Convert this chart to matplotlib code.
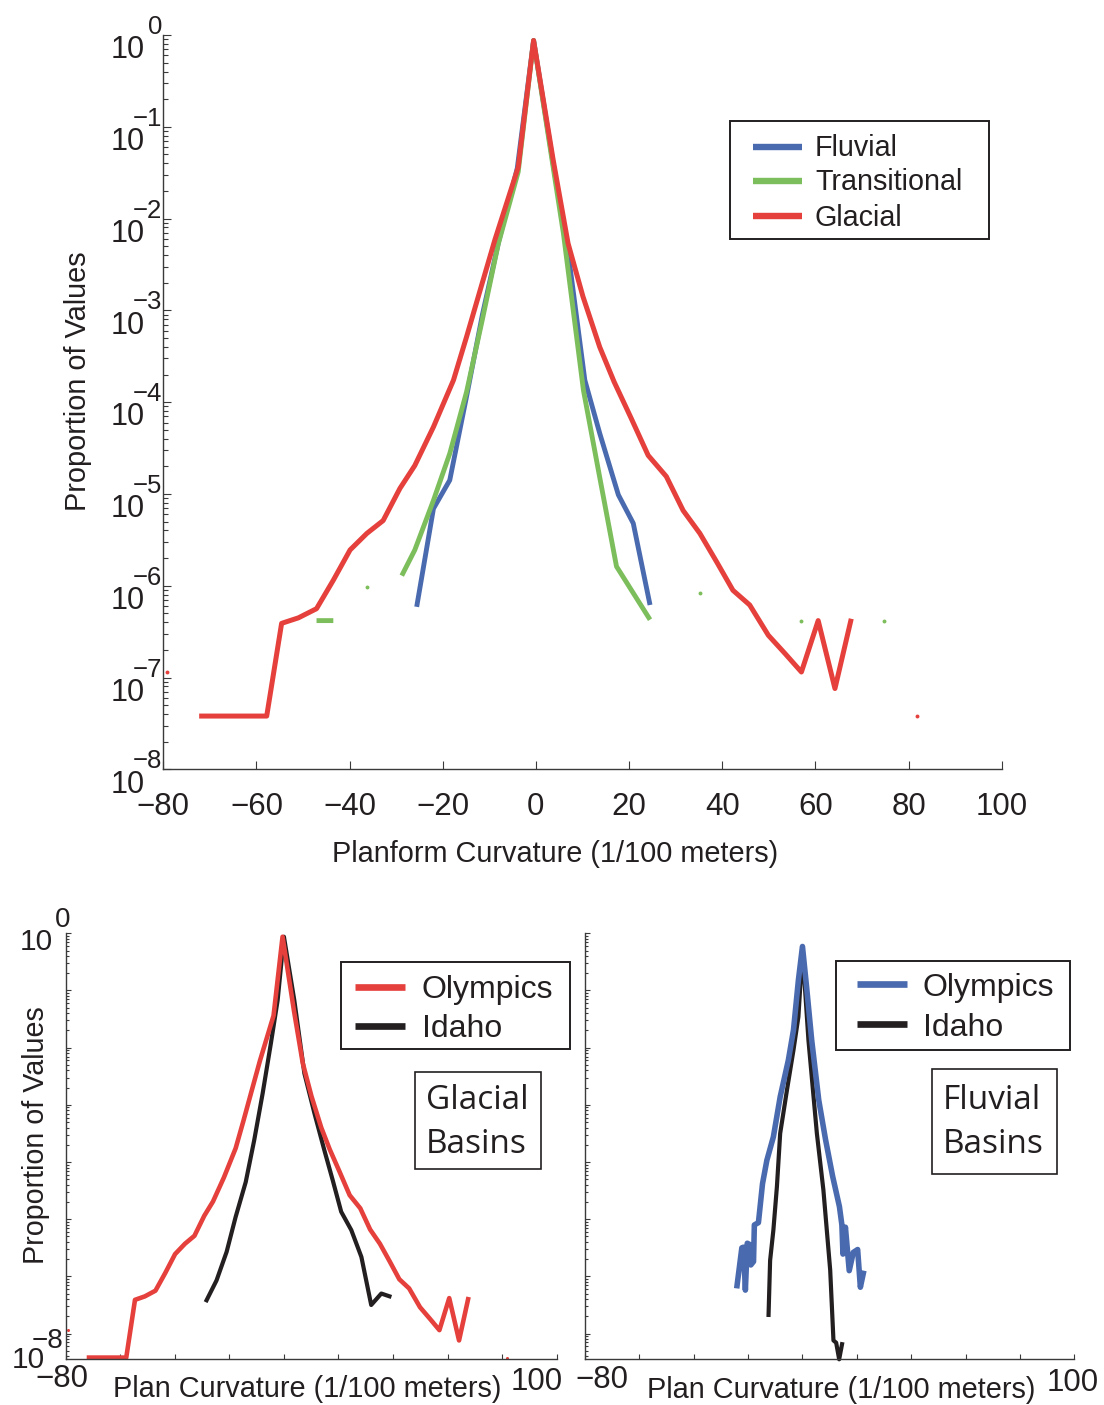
import numpy as np
import matplotlib
matplotlib.use("Agg")
import matplotlib.pyplot as plt
from matplotlib.ticker import LogLocator, NullFormatter, NullLocator
from matplotlib.patches import Rectangle
from matplotlib.lines import Line2D

nan = np.nan

# ---------------- data (x in 1/100 m, values as log10 of proportion) ----------------
# Top panel: all basins
glacial_x = [-79.3, -75.7, -72.3, -68.7, -65.1, -61.5, -57.8, -54.6, -51.0, -47.1, -43.5,
             -39.9, -36.3, -32.8, -29.2, -26.0, -22.0, -17.7, -14.9, -11.8, -8.8, -3.8,
             -0.5, 3.7, 6.9, 10.1, 13.7, 16.8, 20.4, 24.1, 28.0, 31.6, 35.2, 38.8, 42.3,
             45.9, 49.9, 53.5, 57.0, 60.6, 64.2, 67.7, 74.9, 81.9]
glacial_log10 = [-6.94, nan, -7.42, -7.42, -7.42, -7.42, -7.42, -6.41, -6.35, -6.25, -5.94,
                 -5.61, -5.43, -5.29, -4.94, -4.69, -4.27, -3.76, -3.29, -2.75, -2.23, -1.44,
                 -0.06, -1.36, -2.27, -2.85, -3.40, -3.78, -4.17, -4.58, -4.81, -5.18, -5.43,
                 -5.74, -6.05, -6.21, -6.54, -6.74, -6.94, -6.38, -7.12, -6.36, nan, -7.42]

trans_x = [-47.1, -43.5, -39.9, -36.3, -32.6, -28.8, -26.0, -22.0, -18.5, -14.9, -11.5, -8.1,
           -3.8, -0.5, 3.7, 5.9, 10.2, 13.7, 17.3, 20.9, 24.5, 29.9, 35.2, 46.1, 57.0, 65.9, 74.7]
trans_log10 = [-6.38, -6.38, nan, -6.01, nan, -5.89, -5.61, -5.07, -4.56, -3.89, -3.10, -2.28,
               -1.49, -0.06, -1.44, -2.16, -3.87, -4.82, -5.79, -6.08, -6.37, nan, -6.08, nan,
               -6.38, nan, -6.38]

fluvial_x = [-25.6, -22.0, -18.5, -14.9, -11.5, -8.0, -4.0, -0.5, 3.7, 7.0, 10.5, 13.7, 17.7,
             20.9, 24.5]
fluvial_log10 = [-6.23, -5.16, -4.85, -3.94, -3.05, -2.25, -1.45, -0.06, -1.40, -2.40, -3.76,
                 -4.34, -5.01, -5.32, -6.21]

# Bottom-left: glacial basins (Olympics = glacial series above, Idaho below)
idaho_glacial_x = [-28.7, -24.7, -21.0, -17.7, -14.0, -10.9, -7.8, -4.8, -2.3, 0.0, 3.8, 7.5,
                   11.2, 14.8, 17.9, 21.0, 24.7, 28.4, 32.0, 35.7, 39.4]
idaho_glacial_log10 = [-6.45, -6.07, -5.57, -4.96, -4.35, -3.62, -2.80, -1.93, -1.17, -0.06,
                       -1.17, -2.45, -3.15, -3.79, -4.32, -4.87, -5.19, -5.66, -6.50, -6.30, -6.36]

# Bottom-right: fluvial basins
olympics_fluvial_x = [-24.2, -22.3, -21.7, -21.0, -20.3, -19.5, -19.0, -18.0, -17.7, -16.2,
                      -14.7, -13.1, -10.7, -8.2, -5.2, -3.3, -1.5, 0.0, 1.5, 3.4, 6.0, 8.5,
                      11.1, 13.6, 14.5, 14.9, 15.8, 17.2, 18.7, 20.3, 21.3, 22.6]
olympics_fluvial_log10 = [-6.21, -5.50, -5.49, -6.24, -5.42, -5.44, -5.80, -5.74, -5.10, -5.06,
                          -4.38, -3.97, -3.56, -2.86, -2.22, -1.69, -0.82, -0.23, -0.93, -1.87,
                          -2.92, -3.61, -4.25, -4.78, -5.10, -5.61, -5.14, -5.90, -5.58, -5.53,
                          -6.19, -5.90]
idaho_fluvial_x = [-12.5, -11.9, -10.7, -9.4, -8.2, -5.7, -3.3, -1.5, 0.0, 2.2, 5.3, 7.7,
                   10.2, 11.4, 12.4, 13.5, 14.7]
idaho_fluvial_log10 = [-6.71, -5.72, -5.19, -4.43, -3.50, -2.74, -2.04, -1.46, -0.30, -1.87,
                       -3.50, -4.49, -5.89, -7.12, -7.16, -7.45, -7.15]

top_labels = ["Fluvial", "Transitional", "Glacial"]
bottom_labels = ["Olympics", "Idaho"]
x_ticks = [-80, -60, -40, -20, 0, 20, 40, 60, 80, 100]

# ---------------- styling ----------------
RED = "#E5403C"
GREEN = "#7DBE5C"
BLUE = "#4A6AAF"
BLACK = "#231F20"
TXT = "#231F20"
AXC = "#3A3A3A"

W, H = 1104, 1405
plt.rcParams['font.family'] = ['Liberation Sans', 'DejaVu Sans']
fig = plt.figure(figsize=(W / 100, H / 100), dpi=100)


def axes_px(l, t, r, b):
    return fig.add_axes([l / W, 1 - b / H, (r - l) / W, (b - t) / H])


def px_rect(x0, y0, x1, y1, lw=1.4):
    fig.add_artist(Rectangle((x0 / W, 1 - y1 / H), (x1 - x0) / W, (y1 - y0) / H,
                             transform=fig.transFigure, facecolor='white', edgecolor=TXT,
                             lw=lw, zorder=5))


def px_line(x0, x1, y, color, lw):
    fig.add_artist(Line2D([x0 / W, x1 / W], [1 - y / H, 1 - y / H], transform=fig.transFigure,
                          color=color, lw=lw, solid_capstyle='butt', zorder=6))


def px_text(x, y, s, **kw):
    kw.setdefault('color', TXT)
    kw.setdefault('zorder', 7)
    return fig.text(x / W, 1 - y / H, s, **kw)


def plot_series(ax, x, logv, color, lw, clip=True, ms=2.8):
    x = np.asarray(x, float)
    y = np.power(10.0, np.asarray(logv, float))
    ax.plot(x, y, color=color, lw=lw, solid_joinstyle='round', solid_capstyle='butt',
            clip_on=clip)
    ok = np.isfinite(y)
    prev = np.r_[False, ok[:-1]]
    nxt = np.r_[ok[1:], False]
    iso = ok & ~prev & ~nxt
    if iso.any():
        ax.plot(x[iso], y[iso], ls='none', marker='o', ms=ms, mec='none', mfc=color,
                clip_on=False)


def setup(ax, ylo, maj, mino):
    ax.set_yscale('log')
    ax.set_xlim(-80, 100)
    ax.set_ylim(ylo, 1.0)
    for s in ('top', 'right'):
        ax.spines[s].set_visible(False)
    for s in ('left', 'bottom'):
        ax.spines[s].set_color(AXC)
        ax.spines[s].set_linewidth(1.0)
    ax.set_xticks(x_ticks)
    ax.xaxis.set_minor_locator(NullLocator())
    ax.yaxis.set_major_locator(LogLocator(base=10, numticks=20))
    ax.yaxis.set_minor_locator(LogLocator(base=10, subs=np.arange(2, 10), numticks=20))
    ax.yaxis.set_major_formatter(NullFormatter())
    ax.yaxis.set_minor_formatter(NullFormatter())
    ax.tick_params(which='both', direction='in', color=AXC, width=0.8, top=False, right=False)
    ax.tick_params(which='major', length=maj)
    ax.tick_params(which='minor', length=mino)
    ax.patch.set_alpha(0)


def exp_label(k):
    return '0' if k == 0 else '\u2212' + str(-k)


# ---------------- top panel ----------------
ax = axes_px(163.3, 35, 1001.7, 769.3)
setup(ax, 1e-8, 6.0, 3.6)
ax.tick_params(axis='x', labelsize=22.5, pad=16, labelcolor=TXT)
plot_series(ax, fluvial_x, fluvial_log10, BLUE, 3.5)
plot_series(ax, trans_x, trans_log10, GREEN, 3.5)
plot_series(ax, glacial_x, glacial_log10, RED, 3.6)
for k in range(0, -9, -1):
    ax.annotate('10', xy=(0, 10.0 ** k), xycoords=('axes fraction', 'data'),
                xytext=(-13.2, -16.8), textcoords='offset points', ha='right', va='baseline',
                fontsize=22, color=TXT, annotation_clip=False)
    ax.annotate(exp_label(k), xy=(0, 10.0 ** k), xycoords=('axes fraction', 'data'),
                xytext=(-0.9, 0.7), textcoords='offset points', ha='right', va='baseline',
                fontsize=18.5, color=TXT, annotation_clip=False)
px_text(555.5, 861.7, "Planform Curvature (1/100 meters)", fontsize=20.8, ha='center',
        va='baseline')
px_text(78, 381, "Proportion of Values", fontsize=20.8, ha='center', va='center', rotation=90)

# legend (top)
px_rect(730, 121, 989, 239)
for lab, col, ry in zip(top_labels, [BLUE, GREEN, RED], [146.7, 180.7, 216.0]):
    px_line(753, 802, ry, col, 4.6)
    px_text(815, ry + 9.5, lab, fontsize=20.7, ha='left', va='baseline')

# ---------------- bottom-left panel ----------------
axl = axes_px(65.7, 933.3, 556.7, 1359.3)
setup(axl, 10 ** -7.45, 3.6, 2.2)
axl.tick_params(axis='x', labelbottom=False)
plot_series(axl, idaho_glacial_x, idaho_glacial_log10, BLACK, 3.0, clip=False)
plot_series(axl, glacial_x, glacial_log10, RED, 3.3, clip=False, ms=2.2)
px_text(53.3, 950, '10', fontsize=21.5, ha='right', va='baseline')
px_text(70.7, 926.7, '0', fontsize=20, ha='right', va='baseline')
px_text(45, 1368.3, '10', fontsize=21.5, ha='right', va='baseline')
px_text(63, 1348, '\u22128', fontsize=20, ha='right', va='baseline')
px_text(61.7, 1387, '\u221280', fontsize=22.5, ha='center', va='baseline')
px_text(536.7, 1390, '100', fontsize=22.5, ha='center', va='baseline')
px_text(307.5, 1397, "Plan Curvature (1/100 meters)", fontsize=20.8, ha='center', va='baseline')
px_text(36, 1135, "Proportion of Values", fontsize=20.6, ha='center', va='center', rotation=90)

px_rect(340.7, 962.3, 570, 1049.3)
for lab, col, ry in zip(bottom_labels, [RED, BLACK], [987.3, 1025.7]):
    px_line(355, 405, ry, col, 4.8)
    px_text(421.7, ry + 11, lab, fontsize=23, ha='left', va='baseline')
px_rect(415, 1071.7, 540.7, 1169, lw=1.2)
px_text(426, 1109.3, "Glacial", fontsize=24, ha='left', va='baseline', family=['Open Sans'])
px_text(426, 1153.3, "Basins", fontsize=24, ha='left', va='baseline', family=['Open Sans'])

# ---------------- bottom-right panel ----------------
axr = axes_px(585, 933.3, 1074.3, 1359.3)
setup(axr, 10 ** -7.45, 3.6, 2.2)
axr.tick_params(axis='x', labelbottom=False)
plot_series(axr, idaho_fluvial_x, idaho_fluvial_log10, BLACK, 3.0, clip=False)
plot_series(axr, olympics_fluvial_x, olympics_fluvial_log10, BLUE, 4.0, clip=False)
px_text(601.7, 1388, '\u221280', fontsize=22.5, ha='center', va='baseline')
px_text(1072.5, 1391, '100', fontsize=22.5, ha='center', va='baseline')
px_text(840.8, 1398, "Plan Curvature (1/100 meters)", fontsize=20.8, ha='center', va='baseline')

px_rect(836, 960.7, 1070, 1050)
for lab, col, ry in zip(bottom_labels, [BLUE, BLACK], [984.3, 1024.3]):
    px_line(857.3, 907.3, ry, col, 4.8)
    px_text(922.7, ry + 11.5, lab, fontsize=23, ha='left', va='baseline')
px_rect(931.7, 1069.3, 1057.3, 1174, lw=1.2)
px_text(943, 1109.3, "Fluvial", fontsize=24, ha='left', va='baseline', family=['Open Sans'])
px_text(943, 1153.3, "Basins", fontsize=24, ha='left', va='baseline', family=['Open Sans'])

fig.savefig("out.png", dpi=100)
